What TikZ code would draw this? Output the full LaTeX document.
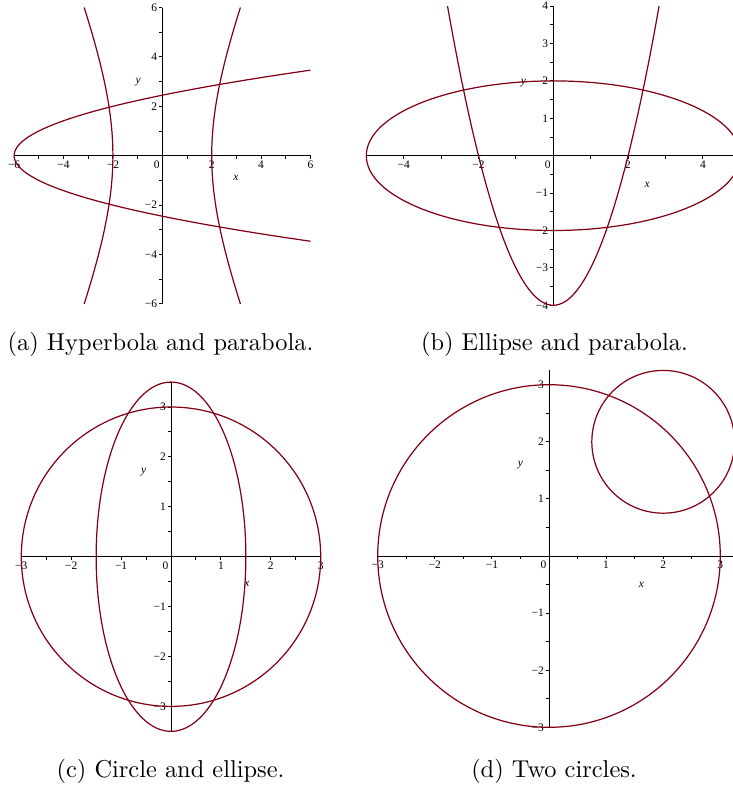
\documentclass[tikz,border=0pt]{standalone}
\usepackage{fontspec}
\newfontfamily\tickfont{Liberation Serif}
\usepackage{xcolor}
\usetikzlibrary{positioning}
\definecolor{curvered}{RGB}{130,0,20}

\begin{document}
\begin{tikzpicture}[
    x=0.41pt, y=-0.41pt,
    curve/.style={curvered, line width=0.5pt},
    axis/.style={black, line width=0.4pt},
    ticklbl/.style={font=\tickfont\fontsize{4.7}{5}\selectfont, inner sep=0.3pt},
    varlbl/.style={font=\tickfont\itshape\fontsize{4.7}{5}\selectfont, inner sep=0pt},
    caption/.style={font=\normalsize, anchor=base}
]
\useasboundingbox (0,0) rectangle (733,787);

% (a) Hyperbola and parabola
\begin{scope}[shift={(162.3,155.7)}, x=10.127pt, y=10.127pt]
  \draw[axis] (-6,0) -- (6,0);
  \draw[axis] (0,-6) -- (0,6);
  \foreach \t in {-6,...,6} {
    \draw[axis] (\t,0) -- ++(0,-1.2pt);
    \draw[axis] (0,\t) -- ++(-1.2pt,0);
  }
  \foreach \t in {2,4,6} {
    \node[ticklbl, below=1.6pt] (xa\t) at (\t,0) {\t};
    \node[ticklbl, below=1.6pt] (xam\t) at (-\t,0) {−\t};
    \node[ticklbl, left=1.6pt] (ya\t) at (0,\t) {\t};
    \node[ticklbl, left=1.6pt] (yam\t) at (0,-\t) {−\t};
  }
  \node[ticklbl, below left=1.6pt and 0.6pt] (oa) at (0,0) {0};
  \node[varlbl] (xlbla) at (2.98,-0.9) {x};
  \node[varlbl] (ylbla) at (-0.98,2.98) {y};
  \draw[curve] plot[domain=-6:6, samples=60, smooth] ({sqrt(4+\x*\x/6)},\x);
  \draw[curve] plot[domain=-6:6, samples=60, smooth] ({-sqrt(4+\x*\x/6)},\x);
  \draw[curve] plot[domain=-3.4641:3.4641, samples=60, smooth] ({\x*\x-6},\x);
\end{scope}

% (b) Ellipse and parabola
\begin{scope}[shift={(553.3,155.7)}, x=15.334pt, y=15.334pt]
  \draw[axis] (-5,0) -- (5,0);
  \draw[axis] (0,-4) -- (0,4);
  \foreach \t in {-5,...,5}
    \draw[axis] (\t,0) -- ++(0,-1.2pt);
  \foreach \t in {-4,-3.5,...,4}
    \draw[axis] (0,\t) -- ++(-1.2pt,0);
  \foreach \t in {2,4} {
    \node[ticklbl, below=1.6pt] (xb\t) at (\t,0) {\t};
    \node[ticklbl, below=1.6pt] (xbm\t) at (-\t,0) {−\t};
  }
  \foreach \t in {1,...,4} {
    \node[ticklbl, left=1.6pt] (yb\t) at (0,\t) {\t};
    \node[ticklbl, left=1.6pt] (ybm\t) at (0,-\t) {−\t};
  }
  \node[ticklbl, below left=1.6pt and 0.6pt] (ob) at (0,0) {0};
  \node[varlbl] (xlblb) at (2.51,-0.78) {x};
  \node[varlbl] (ylblb) at (-0.8,1.94) {y};
  \draw[curve] (0,0) ellipse (5 and 2);
  \draw[curve] plot[domain=-2.8284:2.8284, samples=60, smooth] (\x,{\x*\x-4});
\end{scope}

% (c) Circle and ellipse
\begin{scope}[shift={(171,556.7)}, x=20.459pt, y=20.459pt]
  \draw[axis] (-3,0) -- (3,0);
  \draw[axis] (0,-3.5) -- (0,3.5);
  \foreach \t in {-3,-2.5,...,3}
    \draw[axis] (\t,0) -- ++(0,-1.2pt);
  \foreach \t in {-3.5,-3,...,3.5}
    \draw[axis] (0,\t) -- ++(-1.2pt,0);
  \foreach \t in {1,2,3} {
    \node[ticklbl, below=1.6pt] (xc\t) at (\t,0) {\t};
    \node[ticklbl, below=1.6pt] (xcm\t) at (-\t,0) {−\t};
    \node[ticklbl, left=1.6pt] (yc\t) at (0,\t) {\t};
    \node[ticklbl, left=1.6pt] (ycm\t) at (0,-\t) {−\t};
  }
  \node[ticklbl, below left=1.6pt and 0.6pt] (oc) at (0,0) {0};
  \node[varlbl] (xlblc) at (1.52,-0.55) {x};
  \node[varlbl] (ylblc) at (-0.55,1.70) {y};
  \draw[curve] (0,0) circle (3);
  \draw[curve] (0,0) ellipse (1.5 and 3.5);
\end{scope}

% (d) Two circles
\begin{scope}[shift={(549,556)}, x=23.411pt, y=23.411pt]
  \draw[axis] (-3,0) -- (3.3,0);
  \draw[axis] (0,-3) -- (0,3.25);
  \foreach \t in {-3,-2.5,...,3} {
    \draw[axis] (\t,0) -- ++(0,-1.2pt);
    \draw[axis] (0,\t) -- ++(-1.2pt,0);
  }
  \foreach \t in {1,2,3} {
    \node[ticklbl, below=1.6pt] (xd\t) at (\t,0) {\t};
    \node[ticklbl, below=1.6pt] (xdm\t) at (-\t,0) {−\t};
    \node[ticklbl, left=1.6pt] (yd\t) at (0,\t) {\t};
    \node[ticklbl, left=1.6pt] (ydm\t) at (0,-\t) {−\t};
  }
  \node[ticklbl, below left=1.6pt and 0.6pt] (od) at (0,0) {0};
  \node[varlbl] (xlbld) at (1.62,-0.5) {x};
  \node[varlbl] (ylbld) at (-0.5,1.59) {y};
  \draw[curve] (0,0) circle (3);
  \draw[curve] (2,2) circle (1.25);
\end{scope}

% Captions
\node[caption] (capa) at (160.5,350) {(a) Hyperbola and parabola.};
\node[caption] (capb) at (554.5,350) {(b) Ellipse and parabola.};
\node[caption] (capc) at (170.5,777) {(c) Circle and ellipse.};
\node[caption] (capd) at (554,777) {(d) Two circles.};

\end{tikzpicture}
\end{document}
